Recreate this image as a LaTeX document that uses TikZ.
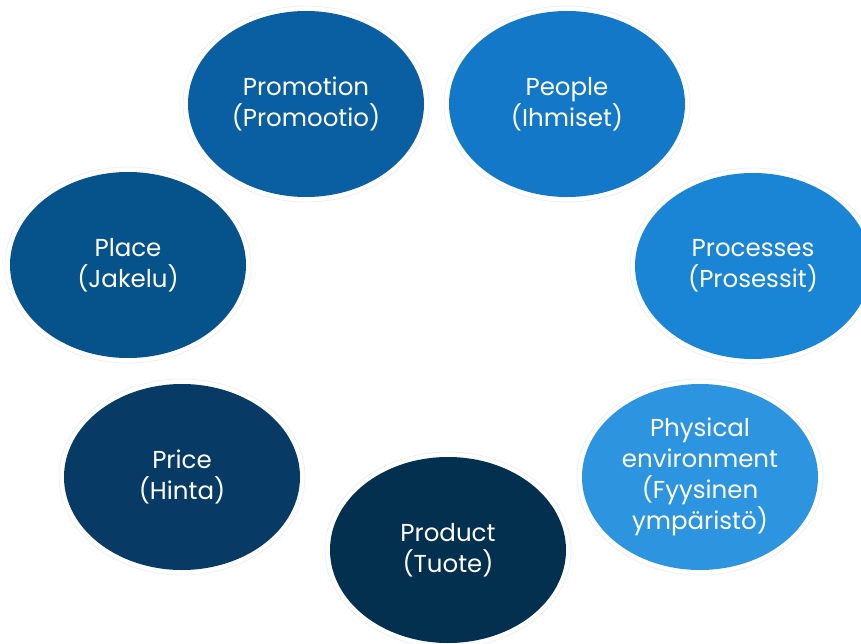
\documentclass[tikz,border=0pt]{standalone}
\usepackage{fontspec}
\setmainfont{Poppins}
\usetikzlibrary{shapes.geometric}
\definecolor{cPromo}{HTML}{0A5FA3}
\definecolor{cPeople}{HTML}{1278C7}
\definecolor{cPlace}{HTML}{06528B}
\definecolor{cProc}{HTML}{1B85D5}
\definecolor{cPrice}{HTML}{073B65}
\definecolor{cPhys}{HTML}{2D94DF}
\definecolor{cProd}{HTML}{03304F}
\definecolor{haloc}{HTML}{EEF1F4}
\begin{document}
\begin{tikzpicture}[x=1pt,y=-1pt,
  pbubble/.style={ellipse, minimum width=236pt, minimum height=186pt, inner sep=0pt,
    text=white, align=center, font=\fontsize{24.5}{31}\selectfont},
  phalo/.style={ellipse, minimum width=246pt, minimum height=196pt, inner sep=0pt,
    draw=haloc, line width=0.8pt}]
\useasboundingbox (0,0) rectangle (861,644);
\fill[white] (0,0) rectangle (861,644);
% halos
\node[phalo] (h1) at (306,104) {};
\node[phalo] (h2) at (567,104) {};
\node[phalo] (h3) at (128,265) {};
\node[phalo] (h4) at (753,266) {};
\node[phalo] (h5) at (182,477) {};
\node[phalo] (h6) at (700,477) {};
\node[phalo] (h7) at (448,550) {};
% bubbles
\node[pbubble, fill=cPromo] (promo) at (306,104) {Promotion\\(Promootio)};
\node[pbubble, fill=cPeople] (people) at (567,104) {People\\(Ihmiset)};
\node[pbubble, fill=cPlace] (place) at (128,265) {Place\\(Jakelu)};
\node[pbubble, fill=cProc] (proc) at (753,266) {Processes\\(Prosessit)};
\node[pbubble, fill=cPrice] (price) at (182,477) {Price\\(Hinta)};
\node[pbubble, fill=cPhys] (phys) at (700,477) {Physical\\environment\\(Fyysinen\\ympäristö)};
\node[pbubble, fill=cProd] (prod) at (448,550) {Product\\(Tuote)};
\end{tikzpicture}
\end{document}
